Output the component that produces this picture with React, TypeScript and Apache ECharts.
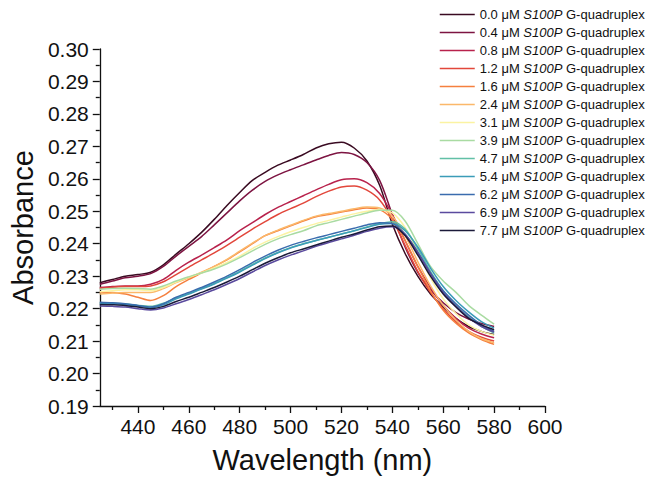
import React, { useEffect, useRef } from "react";
import * as echarts from "echarts";

const wavelengths = [425, 430, 435, 440, 445, 450, 455, 460, 465, 470, 475, 480, 485, 490, 495, 500, 505, 510, 515, 520, 525, 530, 535, 540, 545, 550, 555, 560, 565, 570, 575, 580];

const concentrations = ["0.0", "0.4", "0.8", "1.2", "1.6", "2.4", "3.1", "3.9", "4.7", "5.4", "6.2", "6.9", "7.7"];

const colors = ["#3a0b22", "#7d1442", "#b8224c", "#e2473b", "#f5803f", "#fbb86a", "#fbf3a2", "#a9dba2", "#62c0a6", "#3b9cb8", "#3a6cae", "#5a4a9e", "#1b1a3a"];

const s00 = [0.2280, 0.2290, 0.2300, 0.2305, 0.2312, 0.2335, 0.2368, 0.2400, 0.2435, 0.2475, 0.2518, 0.2558, 0.2595, 0.2620, 0.2642, 0.2658, 0.2675, 0.2695, 0.2708, 0.2713, 0.2695, 0.2655, 0.2580, 0.2460, 0.2370, 0.2300, 0.2245, 0.2205, 0.2170, 0.2145, 0.2130, 0.2120];
const s04 = [0.2275, 0.2285, 0.2295, 0.2300, 0.2308, 0.2330, 0.2362, 0.2392, 0.2422, 0.2458, 0.2495, 0.2532, 0.2565, 0.2592, 0.2612, 0.2628, 0.2643, 0.2658, 0.2672, 0.2681, 0.2675, 0.2650, 0.2595, 0.2490, 0.2390, 0.2312, 0.2258, 0.2218, 0.2188, 0.2168, 0.2154, 0.2145];
const s08 = [0.2265, 0.2268, 0.2270, 0.2270, 0.2275, 0.2290, 0.2318, 0.2343, 0.2365, 0.2388, 0.2412, 0.2440, 0.2465, 0.2490, 0.2512, 0.2530, 0.2548, 0.2566, 0.2583, 0.2597, 0.2600, 0.2588, 0.2555, 0.2490, 0.2410, 0.2330, 0.2265, 0.2210, 0.2170, 0.2140, 0.2122, 0.2110];
const s12 = [0.2263, 0.2266, 0.2268, 0.2268, 0.2270, 0.2283, 0.2305, 0.2328, 0.2350, 0.2372, 0.2395, 0.2420, 0.2445, 0.2468, 0.2490, 0.2508, 0.2525, 0.2545, 0.2562, 0.2575, 0.2578, 0.2565, 0.2535, 0.2475, 0.2395, 0.2315, 0.2250, 0.2200, 0.2160, 0.2130, 0.2112, 0.2100];
const s16 = [0.2250, 0.2250, 0.2245, 0.2235, 0.2225, 0.2240, 0.2268, 0.2290, 0.2310, 0.2330, 0.2350, 0.2375, 0.2400, 0.2425, 0.2440, 0.2455, 0.2470, 0.2483, 0.2490, 0.2498, 0.2505, 0.2510, 0.2505, 0.2475, 0.2410, 0.2330, 0.2255, 0.2195, 0.2155, 0.2125, 0.2105, 0.2090];
const s24 = [0.2245, 0.2248, 0.2250, 0.2250, 0.2250, 0.2262, 0.2280, 0.2295, 0.2312, 0.2330, 0.2352, 0.2377, 0.2402, 0.2425, 0.2442, 0.2457, 0.2472, 0.2485, 0.2493, 0.2500, 0.2508, 0.2513, 0.2510, 0.2485, 0.2425, 0.2345, 0.2270, 0.2210, 0.2165, 0.2130, 0.2108, 0.2095];
const s31 = [0.2252, 0.2255, 0.2258, 0.2258, 0.2255, 0.2265, 0.2282, 0.2297, 0.2310, 0.2325, 0.2342, 0.2362, 0.2385, 0.2405, 0.2422, 0.2437, 0.2450, 0.2462, 0.2472, 0.2482, 0.2492, 0.2500, 0.2505, 0.2495, 0.2450, 0.2375, 0.2295, 0.2230, 0.2185, 0.2150, 0.2130, 0.2118];
const s39 = [0.2260, 0.2262, 0.2263, 0.2262, 0.2260, 0.2270, 0.2285, 0.2298, 0.2310, 0.2322, 0.2338, 0.2357, 0.2378, 0.2398, 0.2415, 0.2428, 0.2440, 0.2455, 0.2465, 0.2475, 0.2485, 0.2495, 0.2503, 0.2503, 0.2470, 0.2400, 0.2330, 0.2285, 0.2250, 0.2210, 0.2180, 0.2152];
const s47 = [0.2218, 0.2217, 0.2215, 0.2210, 0.2207, 0.2217, 0.2233, 0.2247, 0.2262, 0.2278, 0.2296, 0.2315, 0.2336, 0.2356, 0.2373, 0.2388, 0.2400, 0.2410, 0.2420, 0.2430, 0.2440, 0.2452, 0.2462, 0.2468, 0.2445, 0.2385, 0.2315, 0.2255, 0.2210, 0.2175, 0.2145, 0.2125];
const s54 = [0.2215, 0.2215, 0.2213, 0.2208, 0.2203, 0.2212, 0.2230, 0.2245, 0.2260, 0.2276, 0.2294, 0.2313, 0.2334, 0.2354, 0.2372, 0.2387, 0.2399, 0.2410, 0.2420, 0.2430, 0.2440, 0.2450, 0.2460, 0.2462, 0.2440, 0.2390, 0.2325, 0.2268, 0.2225, 0.2190, 0.2160, 0.2140];
const s62 = [0.2220, 0.2218, 0.2215, 0.2210, 0.2205, 0.2215, 0.2235, 0.2250, 0.2265, 0.2282, 0.2300, 0.2320, 0.2342, 0.2362, 0.2380, 0.2395, 0.2407, 0.2418, 0.2428, 0.2438, 0.2448, 0.2458, 0.2465, 0.2462, 0.2430, 0.2375, 0.2310, 0.2255, 0.2215, 0.2180, 0.2150, 0.2130];
const s69 = [0.2208, 0.2207, 0.2205, 0.2200, 0.2196, 0.2202, 0.2215, 0.2228, 0.2243, 0.2258, 0.2275, 0.2293, 0.2313, 0.2333, 0.2350, 0.2365, 0.2378, 0.2392, 0.2404, 0.2415, 0.2426, 0.2438, 0.2448, 0.2452, 0.2428, 0.2372, 0.2308, 0.2250, 0.2208, 0.2172, 0.2145, 0.2128];
const s77 = [0.2213, 0.2212, 0.2210, 0.2205, 0.2200, 0.2207, 0.2222, 0.2235, 0.2250, 0.2265, 0.2282, 0.2300, 0.2320, 0.2340, 0.2357, 0.2372, 0.2384, 0.2396, 0.2408, 0.2420, 0.2430, 0.2442, 0.2452, 0.2455, 0.2425, 0.2365, 0.2300, 0.2245, 0.2205, 0.2170, 0.2150, 0.2135];

const seriesValues = [s00, s04, s08, s12, s16, s24, s31, s39, s47, s54, s62, s69, s77];

const xMajorTicks = [440, 460, 480, 500, 520, 540, 560, 580, 600];
const xMinorTicks = [430, 450, 470, 490, 510, 530, 550, 570, 590];

const FONT = "'Liberation Sans', Arial, sans-serif";

export default function App() {
  const ref = useRef<HTMLDivElement>(null);
  useEffect(() => {
    document.body.style.margin = "0";
    if (!ref.current) return;
    const chart = echarts.init(ref.current, undefined, { renderer: "svg" });
    const names = concentrations.map((c) => `${c} μM S100P G-quadruplex`);
    const series = seriesValues.map((vals, i) => ({
      name: names[i],
      type: "line",
      xAxisIndex: 0,
      yAxisIndex: 0,
      data: wavelengths.map((w, j) => [w, vals[j]]),
      showSymbol: false,
      symbol: "none",
      smooth: 0.3,
      lineStyle: { width: 1.5, color: colors[i] },
      itemStyle: { color: colors[i] },
    }));
    chart.setOption({
      animation: false,
      backgroundColor: "#ffffff",
      textStyle: { fontFamily: FONT },
      grid: { left: 98, right: 106, top: 49, bottom: 70, containLabel: false },
      legend: {
        orient: "vertical",
        left: 434,
        top: 3,
        itemWidth: 35,
        itemHeight: 14,
        itemGap: 5,
        data: names,
        itemStyle: { color: "rgba(0,0,0,0)", borderWidth: 0, opacity: 0 },
        lineStyle: { width: 1.5 },
        formatter: (name: string) => {
          const c = name.split(" ")[0];
          return `{n|${c} μM }{i|S100P}{n| G-quadruplex}`;
        },
        textStyle: {
          fontFamily: FONT,
          fontSize: 13,
          color: "#111",
          rich: {
            n: { fontFamily: FONT, fontSize: 13, color: "#111" },
            i: { fontFamily: FONT, fontSize: 13, color: "#111", fontStyle: "italic" },
          },
        },
      },
      xAxis: [
        {
          type: "value",
          min: 425,
          max: 600,
          interval: 5,
          name: "Wavelength (nm)",
          nameLocation: "middle",
          nameGap: 39,
          nameTextStyle: { fontFamily: FONT, fontSize: 29, color: "#111" },
          axisLine: { show: true, onZero: false, lineStyle: { color: "#111", width: 1.3 } },
          axisTick: { show: true, length: 7, inside: false, customValues: xMajorTicks, lineStyle: { color: "#111", width: 1.3 } },
          axisLabel: { customValues: xMajorTicks, fontFamily: FONT, fontSize: 21, color: "#111", margin: 10 },
          splitLine: { show: false },
        },
        {
          type: "value",
          min: 425,
          max: 600,
          interval: 5,
          position: "bottom",
          axisLine: { show: false, onZero: false },
          axisTick: { show: true, length: 4, customValues: xMinorTicks, lineStyle: { color: "#111", width: 1.3 } },
          axisLabel: { show: false },
          splitLine: { show: false },
        },
      ],
      yAxis: {
        type: "value",
        min: 0.19,
        max: 0.3,
        interval: 0.01,
        name: "Absorbance",
        nameLocation: "middle",
        nameGap: 62,
        nameTextStyle: { fontFamily: FONT, fontSize: 29, color: "#111" },
        axisLine: { show: true, onZero: false, lineStyle: { color: "#111", width: 1.3 } },
        axisTick: { show: true, length: 7, lineStyle: { color: "#111", width: 1.3 } },
        minorTick: { show: true, splitNumber: 2, length: 4, lineStyle: { color: "#111", width: 1.3 } },
        axisLabel: {
          fontFamily: FONT,
          fontSize: 21,
          color: "#111",
          margin: 11,
          formatter: (v: number) => v.toFixed(2),
        },
        splitLine: { show: false },
        minorSplitLine: { show: false },
      },
      series,
    });
    return () => chart.dispose();
  }, []);
  return <div ref={ref} style={{ width: 651, height: 479 }} />;
}
